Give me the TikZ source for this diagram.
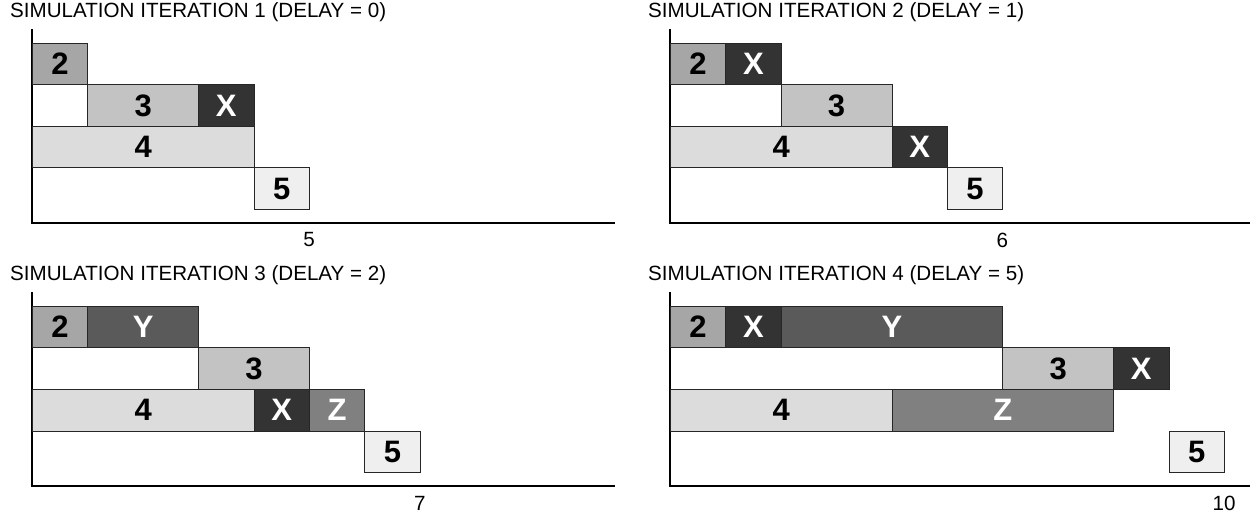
\documentclass[tikz,border=0pt]{standalone}
\usepackage{fontspec}
\setmainfont{Liberation Sans}
\definecolor{g2}{HTML}{A6A6A6}
\definecolor{g3}{HTML}{C3C3C3}
\definecolor{g4}{HTML}{DCDCDC}
\definecolor{g5}{HTML}{EFEFEF}
\definecolor{gx}{HTML}{333333}
\definecolor{gy}{HTML}{5A5A5A}
\definecolor{gz}{HTML}{808080}
\newcommand\bxfont{\fontsize{31bp}{31bp}\selectfont\bfseries}
\newcommand\lbfont{\fontsize{20.6bp}{21bp}\selectfont}
\tikzset{
  bx/.style={rectangle, draw=black!85, line width=0.8bp, inner sep=0pt,
    anchor=north west, minimum height=41.5bp, font=\bxfont},
  c2/.style={bx, fill=g2, text=black},
  c3/.style={bx, fill=g3, text=black},
  c4/.style={bx, fill=g4, text=black},
  c5/.style={bx, fill=g5, text=black},
  cx/.style={bx, fill=gx, text=white},
  cy/.style={bx, fill=gy, text=white},
  cz/.style={bx, fill=gz, text=white},
  axis/.style={line width=2.4bp, line cap=rect},
  ttl/.style={anchor=west, inner sep=0pt, font=\lbfont},
  tlab/.style={anchor=center, inner sep=0pt, font=\lbfont}
}
% #1 name, #2 style, #3 panel x, #4 panel y, #5 row, #6 start, #7 length, #8 text
\newcommand\gbox[8]{%
  \node[#2, minimum width={#7*55.4bp}] (#1) at ({#3+#6*55.4},{#4+#5*41.5}) {#8};}
% #1 prefix, #2 x, #3 y, #4 title, #5 time
\newcommand\gpanel[5]{%
  \node[ttl] (#1title) at ({#2-22},{#3-31}) {#4};
  \coordinate (#1top) at (#2,{#3-13});
  \coordinate (#1org) at (#2,{#3+180});
  \coordinate (#1end) at ({#2+582},{#3+180});
  \draw[axis] (#1top) -- (#1org) -- (#1end);
  \node[tlab] (#1time) at ({#2+#5*55.4},{#3+197}) {#5};}
\begin{document}
\begin{tikzpicture}[x=1bp,y=-1bp]
\useasboundingbox (0,0) rectangle (1250,516);
% Panel 1
\gpanel{pa}{32}{43}{SIMULATION ITERATION 1 (DELAY = 0)}{5}
\gbox{pa2}{c2}{32}{43}{0}{0}{1}{2}
\gbox{pa3}{c3}{32}{43}{1}{1}{2}{3}
\gbox{pax}{cx}{32}{43}{1}{3}{1}{X}
\gbox{pa4}{c4}{32}{43}{2}{0}{4}{4}
\gbox{pa5}{c5}{32}{43}{3}{4}{1}{5}
% Panel 2
\gpanel{pb}{670}{43}{SIMULATION ITERATION 2 (DELAY = 1)}{6}
\gbox{pb2}{c2}{670}{43}{0}{0}{1}{2}
\gbox{pbxa}{cx}{670}{43}{0}{1}{1}{X}
\gbox{pb3}{c3}{670}{43}{1}{2}{2}{3}
\gbox{pb4}{c4}{670}{43}{2}{0}{4}{4}
\gbox{pbxb}{cx}{670}{43}{2}{4}{1}{X}
\gbox{pb5}{c5}{670}{43}{3}{5}{1}{5}
% Panel 3
\gpanel{pc}{32}{306}{SIMULATION ITERATION 3 (DELAY = 2)}{7}
\gbox{pc2}{c2}{32}{306}{0}{0}{1}{2}
\gbox{pcy}{cy}{32}{306}{0}{1}{2}{Y}
\gbox{pc3}{c3}{32}{306}{1}{3}{2}{3}
\gbox{pc4}{c4}{32}{306}{2}{0}{4}{4}
\gbox{pcx}{cx}{32}{306}{2}{4}{1}{X}
\gbox{pcz}{cz}{32}{306}{2}{5}{1}{Z}
\gbox{pc5}{c5}{32}{306}{3}{6}{1}{5}
% Panel 4
\gpanel{pd}{670}{306}{SIMULATION ITERATION 4 (DELAY = 5)}{10}
\gbox{pd2}{c2}{670}{306}{0}{0}{1}{2}
\gbox{pdxa}{cx}{670}{306}{0}{1}{1}{X}
\gbox{pdy}{cy}{670}{306}{0}{2}{4}{Y}
\gbox{pd3}{c3}{670}{306}{1}{6}{2}{3}
\gbox{pdxb}{cx}{670}{306}{1}{8}{1}{X}
\gbox{pd4}{c4}{670}{306}{2}{0}{4}{4}
\gbox{pdz}{cz}{670}{306}{2}{4}{4}{Z}
\gbox{pd5}{c5}{670}{306}{3}{9}{1}{5}
\end{tikzpicture}
\end{document}
